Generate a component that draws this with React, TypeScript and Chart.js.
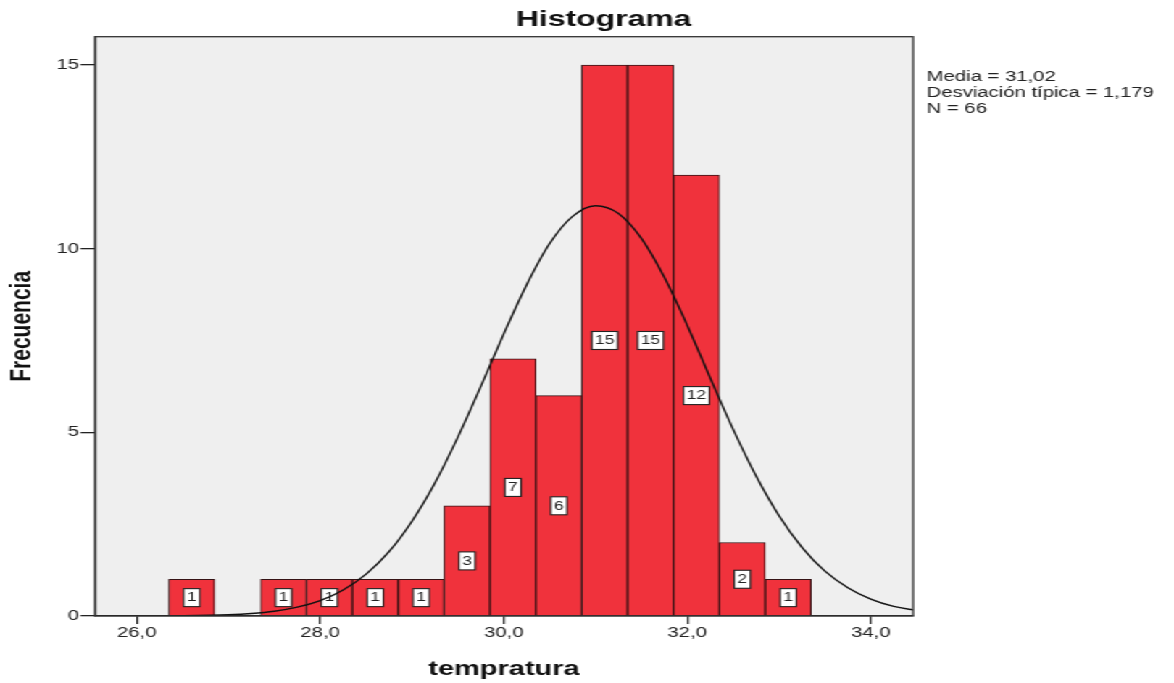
import React, { useEffect, useRef } from "react";
import { Chart, registerables } from "chart.js";

Chart.register(...registerables);

// ---- data ----
const binCenters = [26.6, 27.1, 27.6, 28.1, 28.6, 29.1, 29.6, 30.1, 30.6, 31.1, 31.6, 32.1, 32.6, 33.1];
const frequencies = [1, 0, 1, 1, 1, 1, 3, 7, 6, 15, 15, 12, 2, 1];

const curveX = [25.5, 26.0, 26.5, 27.0, 27.25, 27.5, 27.75, 28.0, 28.25, 28.5, 28.75, 29.0, 29.25, 29.5, 29.75, 30.0, 30.25, 30.5, 30.75, 31.0, 31.25, 31.5, 31.75, 32.0, 32.25, 32.5, 32.75, 33.0, 33.25, 33.5, 33.75, 34.0, 34.25, 34.5];
const curveY = [0.0, 0.001, 0.007, 0.033, 0.067, 0.13, 0.24, 0.42, 0.71, 1.14, 1.75, 2.58, 3.62, 4.87, 6.25, 7.68, 9.02, 10.14, 10.88, 11.17, 10.96, 10.28, 9.22, 7.91, 6.48, 5.08, 3.81, 2.73, 1.87, 1.22, 0.77, 0.46, 0.26, 0.15];

const xTickValues = [26, 28, 30, 32, 34];
const yTickValues = [0, 5, 10, 15];
const xRange = [25.545, 34.461];
const yRange = [0, 15.77];

const chartTitle = "Histograma";
const xTitle = "tempratura";
const yTitle = "Frecuencia";
const statsLines = ["Media = 31,02", "Desviación típica = 1,179", "N = 66"];

// ---- layout ----
const W = 810;
const H = 683;
const SX = 1174 / W;
const FONT = "'Liberation Sans', Arial, Helvetica, sans-serif";

export default function App() {
  const ref = useRef<HTMLCanvasElement>(null);

  useEffect(() => {
    const canvas = ref.current;
    if (!canvas) return;

    const overlay = {
      id: "overlay",
      beforeDraw(chart: any) {
        const { ctx, chartArea: a } = chart;
        ctx.save();
        ctx.fillStyle = "#ffffff";
        ctx.fillRect(0, 0, chart.width, chart.height);
        ctx.fillStyle = "#efefef";
        ctx.fillRect(a.left, a.top, a.right - a.left, a.bottom - a.top);
        ctx.restore();
      },
      afterDatasetDraw(chart: any, args: any) {
        if (args.index !== 0) return;
        const { ctx } = chart;
        const yScale = chart.scales.y;
        const meta = chart.getDatasetMeta(0);
        ctx.save();
        ctx.font = `12px ${FONT}`;
        ctx.textAlign = "center";
        ctx.textBaseline = "middle";
        meta.data.forEach((el: any, i: number) => {
          const v = frequencies[i];
          if (!v) return;
          const cx = el.x;
          const cy = yScale.getPixelForValue(v / 2);
          const txt = String(v);
          const tw = ctx.measureText(txt).width;
          const bw = tw + 4.5;
          const bh = 18;
          ctx.fillStyle = "#ffffff";
          ctx.fillRect(cx - bw / 2, cy - bh / 2, bw, bh);
          ctx.strokeStyle = "#222";
          ctx.lineWidth = 1.1;
          ctx.strokeRect(cx - bw / 2, cy - bh / 2, bw, bh);
          ctx.fillStyle = "#222";
          ctx.fillText(txt, cx, cy + 0.5);
        });
        ctx.restore();
      },
      afterDraw(chart: any) {
        const { ctx, chartArea: a } = chart;
        ctx.save();
        ctx.strokeStyle = "#333";
        ctx.lineWidth = 1.3;
        ctx.strokeRect(a.left, a.top, a.right - a.left, a.bottom - a.top);
        ctx.fillStyle = "#111";
        ctx.font = `bold 22px ${FONT}`;
        ctx.textAlign = "center";
        ctx.textBaseline = "alphabetic";
        ctx.fillText(chartTitle, 416.5, 26);
        ctx.font = `14px ${FONT}`;
        ctx.textAlign = "left";
        ctx.fillStyle = "#222";
        statsLines.forEach((s, i) => ctx.fillText(s, a.right + 9.3, 80.7 + i * 16));
        ctx.restore();
      },
    };

    const chart = new Chart(canvas, {
      type: "bar",
      data: {
        datasets: [
          {
            type: "bar",
            data: binCenters.map((x, i) => ({ x, y: frequencies[i] || null })) as any,
            backgroundColor: "#f0323c",
            borderColor: "#351214",
            borderWidth: 1,
            borderSkipped: "start",
            barPercentage: 1,
            categoryPercentage: 1,
            order: 2,
          } as any,
          {
            type: "line",
            data: curveX.map((x, i) => ({ x, y: curveY[i] })) as any,
            borderColor: "#111",
            borderWidth: 1.4,
            pointRadius: 0,
            cubicInterpolationMode: "monotone",
            fill: false,
            order: 1,
          } as any,
        ],
      },
      options: {
        responsive: false,
        animation: false,
        devicePixelRatio: 1,
        layout: { padding: { top: 36.7, right: 180, left: 0, bottom: 0 } },
        plugins: {
          legend: { display: false },
          tooltip: { enabled: false },
          title: { display: false },
        },
        scales: {
          x: {
            type: "linear",
            min: xRange[0],
            max: xRange[1],
            offset: false,
            afterBuildTicks: (s: any) => {
              s.ticks = xTickValues.map((v) => ({ value: v }));
            },
            afterFit: (s: any) => {
              s.height = H - 616;
            },
            ticks: {
              autoSkip: false,
              maxRotation: 0,
              padding: 1,
              color: "#222",
              font: { family: FONT, size: 14 },
              callback: (v: any) => Number(v).toFixed(1).replace(".", ","),
            },
            grid: {
              display: true,
              drawOnChartArea: false,
              drawTicks: true,
              tickLength: 8,
              color: "#222",
              lineWidth: 1.3,
              offset: false,
            },
            border: { display: true, color: "#222", width: 1.3 },
            title: {
              display: true,
              text: xTitle,
              color: "#111",
              font: { family: FONT, size: 20, weight: "bold" },
              padding: { top: 0, bottom: 1.2 },
            },
          },
          y: {
            type: "linear",
            min: yRange[0],
            max: yRange[1],
            afterBuildTicks: (s: any) => {
              s.ticks = yTickValues.map((v) => ({ value: v }));
            },
            afterFit: (s: any) => {
              s.width = 65.5;
            },
            ticks: {
              padding: 1,
              color: "#222",
              font: { family: FONT, size: 14 },
            },
            grid: {
              display: true,
              drawOnChartArea: false,
              drawTicks: true,
              tickLength: 10,
              color: "#222",
              lineWidth: 1.3,
            },
            border: { display: true, color: "#222", width: 1.3 },
            title: {
              display: true,
              text: yTitle,
              color: "#111",
              font: { family: FONT, size: 21, weight: "bold" },
              padding: { top: 3, bottom: 0 },
            },
          },
        },
      } as any,
      plugins: [overlay],
    });

    return () => chart.destroy();
  }, []);

  return (
    <div
      style={{
        position: "fixed",
        left: 0,
        top: 0,
        width: W,
        height: H,
        transform: `scaleX(${SX})`,
        transformOrigin: "0 0",
        background: "#fff",
      }}
    >
      <canvas ref={ref} width={W} height={H} style={{ display: "block" }} />
    </div>
  );
}
